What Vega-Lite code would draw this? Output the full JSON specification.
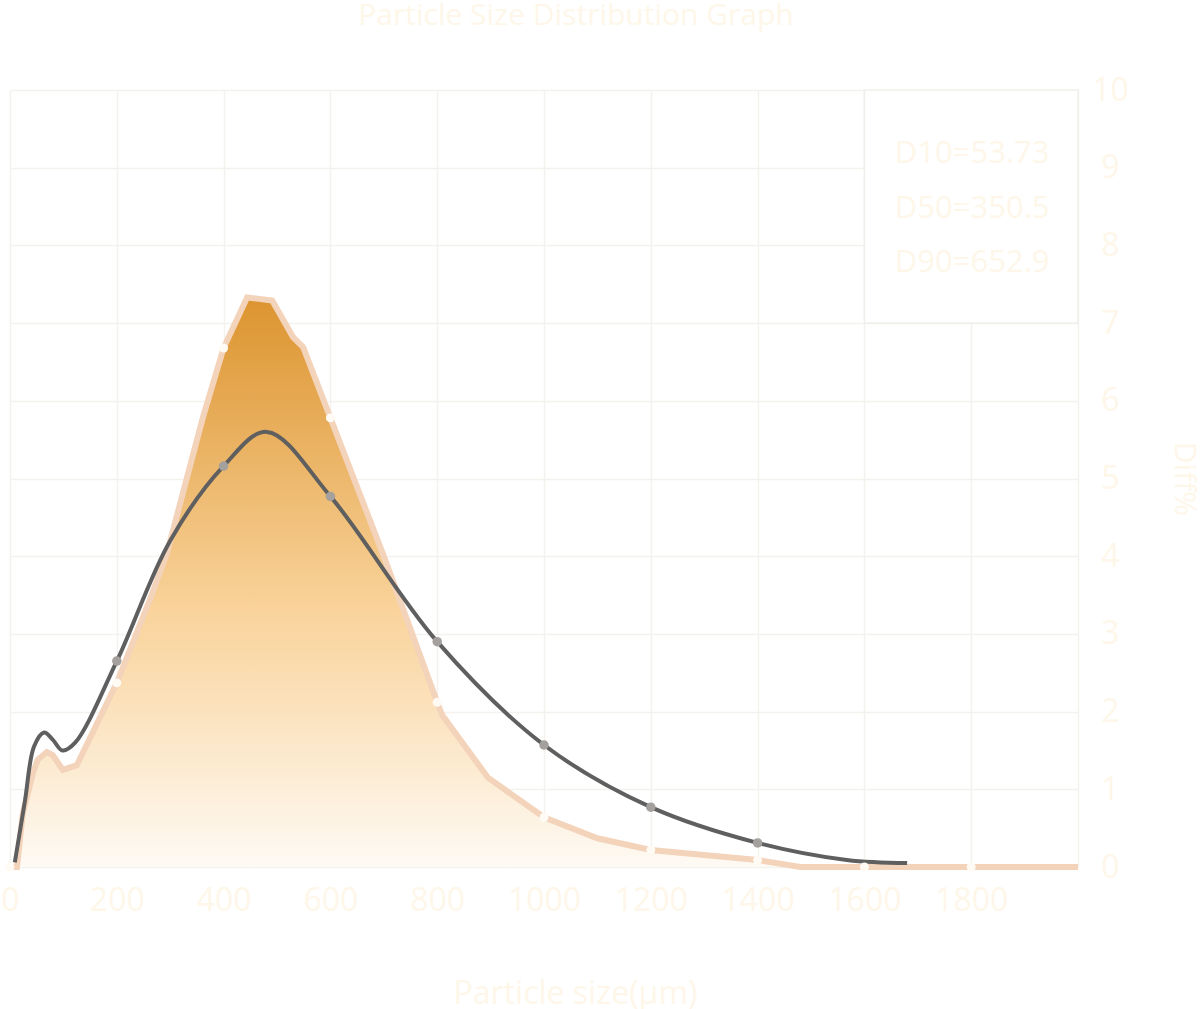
{
  "$schema": "https://vega.github.io/schema/vega-lite/v6.json",
  "width": 1068,
  "height": 777,
  "autosize": {"type": "none"},
  "padding": {"left": 10, "top": 90, "right": 122, "bottom": 142},
  "background": "white",
  "title": {
    "text": "Particle Size Distribution Graph",
    "font": "Open Sans",
    "fontSize": 30,
    "fontWeight": "normal",
    "color": "#fef7e9",
    "anchor": "middle",
    "dx": 32,
    "offset": 43
  },
  "config": {
    "view": {"stroke": null},
    "axis": {
      "labelFont": "Open Sans",
      "titleFont": "Open Sans",
      "labelColor": "#fef7e9",
      "titleColor": "#fef7e9",
      "gridColor": "#f4f2ef",
      "gridWidth": 1.5,
      "domain": false,
      "ticks": false,
      "titleFontWeight": "normal"
    }
  },
  "datasets": {
    "dist": [
      {"size": 0, "diff": 0},
      {"size": 13, "diff": 0},
      {"size": 24, "diff": 0.69},
      {"size": 43, "diff": 1.21},
      {"size": 52, "diff": 1.38},
      {"size": 69, "diff": 1.48},
      {"size": 80, "diff": 1.44},
      {"size": 99, "diff": 1.25},
      {"size": 125, "diff": 1.31},
      {"size": 200, "diff": 2.37},
      {"size": 262, "diff": 3.44},
      {"size": 294, "diff": 4.04},
      {"size": 361, "diff": 5.78},
      {"size": 400, "diff": 6.68},
      {"size": 444, "diff": 7.33},
      {"size": 491, "diff": 7.29},
      {"size": 530, "diff": 6.82},
      {"size": 549, "diff": 6.69},
      {"size": 600, "diff": 5.78},
      {"size": 700, "diff": 4.0},
      {"size": 800, "diff": 2.12},
      {"size": 809, "diff": 1.96},
      {"size": 895, "diff": 1.15},
      {"size": 1000, "diff": 0.64},
      {"size": 1100, "diff": 0.37},
      {"size": 1200, "diff": 0.22},
      {"size": 1400, "diff": 0.09},
      {"size": 1480, "diff": 0},
      {"size": 1600, "diff": 0},
      {"size": 1800, "diff": 0},
      {"size": 2000, "diff": 0}
    ],
    "curve": [
      {"size": 9, "diff": 0.06},
      {"size": 28, "diff": 0.85},
      {"size": 45, "diff": 1.55},
      {"size": 64, "diff": 1.73},
      {"size": 80, "diff": 1.64},
      {"size": 98, "diff": 1.5},
      {"size": 122, "diff": 1.6},
      {"size": 200, "diff": 2.65},
      {"size": 300, "diff": 4.2},
      {"size": 400, "diff": 5.16},
      {"size": 481, "diff": 5.6},
      {"size": 600, "diff": 4.77},
      {"size": 800, "diff": 2.9},
      {"size": 1000, "diff": 1.57},
      {"size": 1200, "diff": 0.77},
      {"size": 1400, "diff": 0.31},
      {"size": 1567, "diff": 0.09},
      {"size": 1680, "diff": 0.05}
    ],
    "notes": [
      {"label": "D10=53.73", "size": 1657, "diff": 9.17},
      {"label": "D50=350.5", "size": 1657, "diff": 8.47},
      {"label": "D90=652.9", "size": 1657, "diff": 7.77}
    ],
    "box": [
      {"x0": 1600, "x1": 2000, "y0": 7, "y1": 10}
    ]
  },
  "encoding": {
    "x": {
      "field": "size",
      "type": "quantitative",
      "scale": {"domain": [0, 2000], "nice": false},
      "axis": {
        "values": [0, 200, 400, 600, 800, 1000, 1200, 1400, 1600, 1800, 2000],
        "labelExpr": "datum.value == 2000 ? '' : datum.label",
        "format": "d",
        "labelFlush": false,
        "labelOverlap": false,
        "labelFontSize": 32,
        "labelPadding": 18,
        "title": "Particle size(μm)",
        "titleFontSize": 32,
        "titlePadding": 62,
        "titleX": 565
      }
    },
    "y": {
      "field": "diff",
      "type": "quantitative",
      "scale": {"domain": [0, 10], "nice": false},
      "axis": {
        "orient": "right",
        "values": [0, 1, 2, 3, 4, 5, 6, 7, 8, 9, 10],
        "labelFontSize": 32,
        "labelAlign": "center",
        "labelPadding": 32,
        "labelBaseline": "middle",
        "title": "Diff%",
        "titleFontSize": 30,
        "titlePadding": 40
      }
    }
  },
  "layer": [
    {
      "data": {"name": "box"},
      "mark": {"type": "rect", "fill": "white", "stroke": "#f1efec", "strokeWidth": 1.5},
      "encoding": {
        "x": {"field": "x0", "type": "quantitative"},
        "x2": {"field": "x1"},
        "y": {"field": "y0", "type": "quantitative"},
        "y2": {"field": "y1"}
      }
    },
    {
      "data": {"name": "dist"},
      "mark": {
        "type": "area",
        "color": {
          "gradient": "linear",
          "x1": 1, "x2": 1, "y1": 1, "y2": 0,
          "stops": [
            {"offset": 0, "color": "#fefaf4"},
            {"offset": 0.45, "color": "#f9d39b"},
            {"offset": 1, "color": "#dc942f"}
          ]
        }
      }
    },
    {
      "data": {"name": "dist"},
      "mark": {"type": "line", "color": "#f4d3bb", "strokeWidth": 6, "strokeJoin": "miter"},
      "encoding": {}
    },
    {
      "data": {"name": "curve"},
      "mark": {"type": "line", "color": "#5f5f5f", "strokeWidth": 4, "interpolate": "catmull-rom"},
      "encoding": {}
    },
    {
      "data": {"name": "dist"},
      "transform": [{"filter": "datum.size % 200 == 0 && datum.size < 2000"}],
      "mark": {"type": "circle", "color": "#fffbf4", "opacity": 1, "size": 80}
    },
    {
      "data": {"name": "curve"},
      "transform": [{"filter": "datum.size % 200 == 0"}],
      "mark": {"type": "circle", "color": "#a3a09d", "opacity": 1, "size": 90}
    },
    {
      "data": {"name": "notes"},
      "mark": {
        "type": "text",
        "font": "Open Sans",
        "fontSize": 31,
        "align": "left",
        "baseline": "middle",
        "color": "#fef7e9"
      },
      "encoding": {"text": {"field": "label"}}
    }
  ]
}
